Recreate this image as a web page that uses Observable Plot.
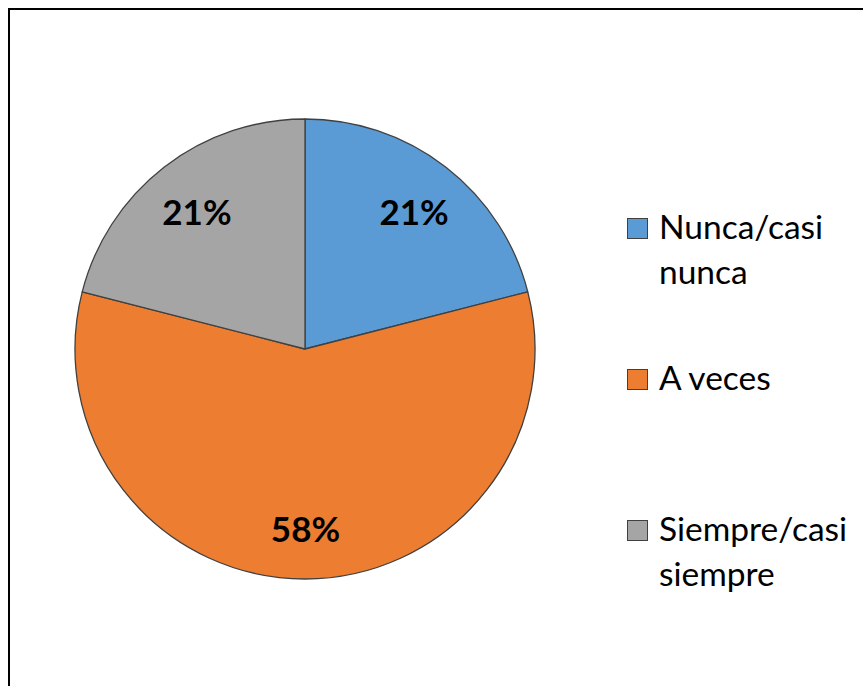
<!DOCTYPE html>
<html>
<head>
<meta charset="utf-8">
<script src="https://cdn.jsdelivr.net/npm/d3@7"></script>
<script src="https://cdn.jsdelivr.net/npm/@observablehq/plot@0.6"></script>
<style>
  body { margin: 0; background: #fff; }
  #wrap { position: relative; width: 863px; height: 686px; overflow: hidden; background: #fff; }
  #frame { position: absolute; left: 8px; top: 8px; width: 900px; height: 720px; border: 2px solid #000; box-sizing: border-box; pointer-events: none; }
  #chart { position: absolute; left: 0; top: 0; }
  .item { position: absolute; left: 627px; display: flex; align-items: flex-start; font-family: Lato, sans-serif; font-size: 33.5px; line-height: 45px; color: #000; }
  .sw { width: 19px; height: 19px; border: 1px solid #404040; margin-top: 14px; margin-right: 11px; flex: none; }
</style>
</head>
<body>
<div id="wrap">
  <div id="chart"></div>
  <div id="legend"></div>
  <div id="frame"></div>
</div>
<script>
const categories = ["Nunca/casi nunca", "A veces", "Siempre/casi siempre"];
const legendLines = [["Nunca/casi", "nunca"], ["A veces"], ["Siempre/casi", "siempre"]];
const values = [21, 58, 21];
const valueLabels = ["21%", "58%", "21%"];
const colors = ["#5B9BD5", "#ED7D31", "#A5A5A5"];

const data = categories.map((c, i) => ({category: c, value: values[i], label: valueLabels[i]}));
const arcs = d3.pie().sort(null).value(d => d.value)(data);
const labelR = 0.77;
const labelData = arcs.map(a => {
  const mid = (a.startAngle + a.endAngle) / 2;
  return {label: a.data.label, x: labelR * Math.sin(mid), y: -labelR * Math.cos(mid)};
});

const R = 230, CX = 305, CY = 349, W = 863, H = 686;

const plot = Plot.plot({
  width: W,
  height: H,
  margin: 0,
  x: {type: "linear", domain: [-CX / R, (W - CX) / R], range: [0, W], axis: null},
  y: {type: "linear", domain: [-CY / R, (H - CY) / R], range: [0, H], axis: null},
  color: {domain: categories, range: colors},
  marks: [
    Plot.dot(arcs, {
      x: () => 0, y: () => 0,
      render(index, scales, values, dims, context) {
        const cx = scales.x(0), cy = scales.y(0), r = scales.x(1) - scales.x(0);
        const arcGen = d3.arc().innerRadius(0).outerRadius(r);
        const g = d3.create("svg:g").attr("transform", `translate(${cx},${cy})`);
        g.selectAll("path").data(arcs).join("path")
          .attr("d", arcGen)
          .attr("fill", d => scales.color(d.data.category))
          .attr("stroke", "#404040")
          .attr("stroke-width", 1.3)
          .attr("stroke-linejoin", "round");
        return g.node();
      }
    }),
    Plot.text(labelData, {
      x: "x", y: "y", text: "label", dy: 4,
      fontFamily: "Lato, sans-serif", fontWeight: "bold", fontSize: 35, fill: "#000"
    })
  ]
});
document.getElementById("chart").appendChild(plot);

const legend = d3.select("#legend");
legendLines.forEach((lines, i) => {
  const item = legend.append("div").attr("class", "item").style("top", (204 + i * 151) + "px");
  item.append("div").attr("class", "sw").style("background", colors[i]);
  item.append("div").html(lines.join("<br>"));
});
</script>
</body>
</html>
